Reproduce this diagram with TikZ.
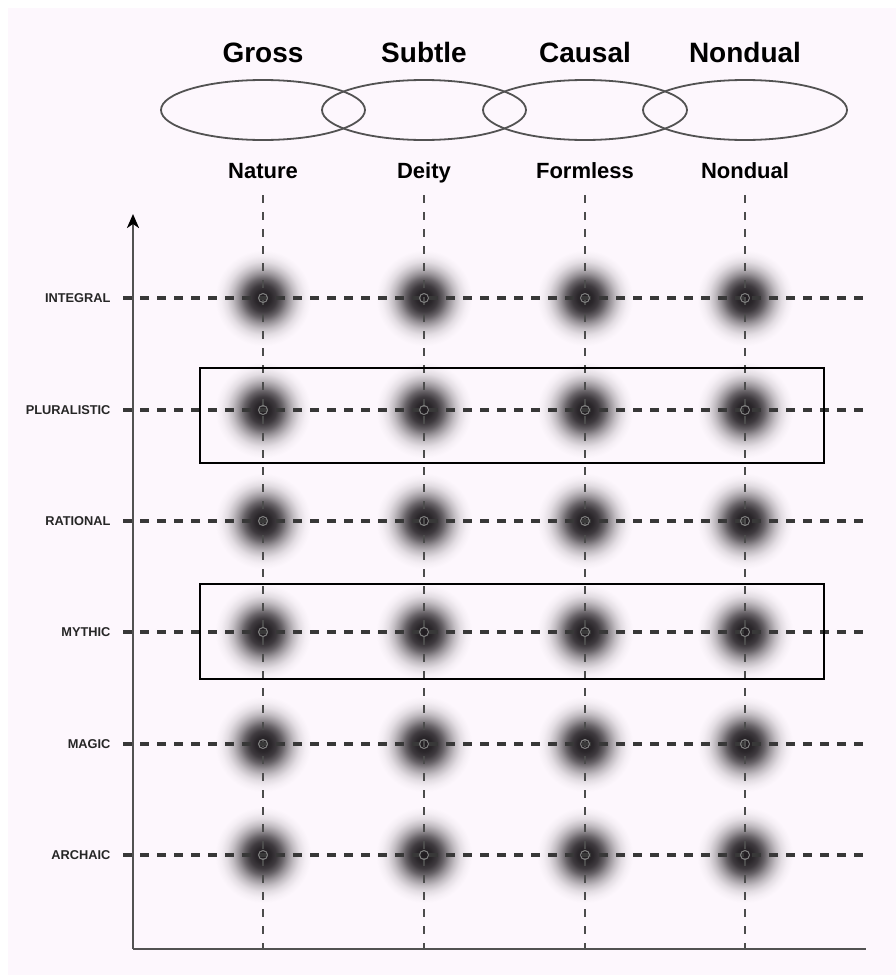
\documentclass[tikz,border=0pt]{standalone}
\usepackage{fontspec}
\usetikzlibrary{arrows.meta}
\setmainfont{Liberation Sans}
\definecolor{bgc}{RGB}{253,247,253}
\definecolor{blobc}{RGB}{32,28,32}
\pgfdeclareradialshading{blob}{\pgfpoint{0bp}{0bp}}{%
color(0bp)=(blobc);
color(4bp)=(blobc!95!bgc);
color(7bp)=(blobc!86!bgc);
color(10bp)=(blobc!68!bgc);
color(13bp)=(blobc!45!bgc);
color(16bp)=(blobc!26!bgc);
color(19bp)=(blobc!12!bgc);
color(22bp)=(blobc!4!bgc);
color(25bp)=(bgc);
color(50bp)=(bgc)}
\tikzset{
  title/.style={font=\fontsize{28}{30}\selectfont\bfseries, anchor=base},
  sub/.style={font=\fontsize{22}{24}\selectfont\bfseries, anchor=base},
  lvl/.style={font=\fontsize{12.8}{14}\selectfont\bfseries, anchor=east, text=black!85},
  hdash/.style={line width=3.2pt, black!78, dash pattern=on 9pt off 8pt},
  vdash/.style={line width=2.8pt, black!70, dash pattern=on 8pt off 9pt},
  axisline/.style={line width=2.4pt, black!68},
  band/.style={line width=2pt, black},
  ring/.style={draw=black!68, line width=1.8pt},
}
\begin{document}
\begin{tikzpicture}[x=1pt,y=-1pt]
\useasboundingbox (0,0) rectangle (896,975);
\fill[white] (0,0) rectangle (896,975);
\fill[bgc] (8,8) rectangle (896,975);

% ellipses
\foreach \x in {263,424,585,745}
  \draw[ring] (\x,110) ellipse [x radius=102pt, y radius=30pt];

% titles
\foreach \x/\t/\n in {263/Gross/tg,424/Subtle/ts,585/Causal/tc,745/Nondual/tn}
  \node[title] (\n) at (\x,62) {\t};
\foreach \x/\t/\n in {263/Nature/sn,424/Deity/sd,585/Formless/sf,745/Nondual/snd}
  \node[sub] (\n) at (\x,178) {\t};

% blobs
\foreach \y in {298,410,521,632,744,855}
  \foreach \x in {263,424,585,745}
    \shade[shading=blob] (\x,\y) circle (48pt);

% coordinates
\foreach \x/\n in {263/1,424/2,585/3,745/4}{
  \coordinate (vt\n) at (\x,195);
  \coordinate (vb\n) at (\x,949);
}
\foreach \y/\t/\n in {298/INTEGRAL/r1,410/PLURALISTIC/r2,521/RATIONAL/r3,632/MYTHIC/r4,744/MAGIC/r5,855/ARCHAIC/r6}{
  \node[lvl] (\n) at (114,\y) {\t};
  \coordinate (\n s) at (123,\y);
  \coordinate (\n e) at (866,\y);
}

% dashed grid
\foreach \n in {1,2,3,4}
  \draw[vdash] (vt\n) -- (vb\n);
\foreach \n in {r1,r2,r3,r4,r5,r6}
  \draw[hdash] (\n s) -- (\n e);

% small rings at intersections
\foreach \y in {298,410,521,632,744,855}
  \foreach \x in {263,424,585,745}
    \draw[black!50, line width=1pt] (\x,\y) circle (4.5pt);

% axes
\coordinate (o) at (133,949);
\coordinate (ytop) at (133,214);
\coordinate (xend) at (866,949);
\draw[axisline, -{Stealth[length=14pt,width=12pt,inset=4pt,black]}] (o) -- (ytop);
\draw[axisline] (o) -- (xend);

% bands
\draw[band] (200,368) rectangle (824,463);
\draw[band] (200,584) rectangle (824,679);
\end{tikzpicture}
\end{document}
